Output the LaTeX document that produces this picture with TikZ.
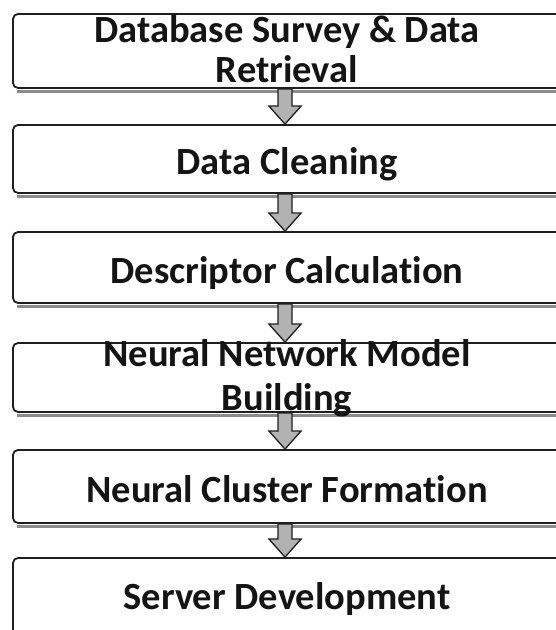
\documentclass[tikz,border=0pt]{standalone}
\usepackage{fontspec}
\setmainfont{Carlito}[Ligatures=NoCommon]
\usetikzlibrary{calc}

\tikzset{
  stepbox/.style={draw=black!88, line width=1.8pt, rounded corners=5pt,
    fill=white, inner sep=0pt, minimum width=548pt},
  steplabel/.style={anchor=base, inner sep=0pt, text=black!92,
    font=\fontsize{38.5}{44}\selectfont\bfseries},
  boxshadow/.style={draw=black!45, line width=2.2pt},
  flowarrow/.style={draw=black!88, line width=1.3pt, fill=black!30,
    line join=miter}
}

% block arrow from the bottom of one box to the top of the next
\newcommand\flowstep[2]{%
  \draw[flowarrow]
    ($(#1.south)+(-9,0)$) -- ($(#2.north)+(-9,18)$) --
    ($(#2.north)+(-18,18)$) -- ($(#2.north)+(-2,0)$) --
    ($(#2.north)+(14,18)$) -- ($(#2.north)+(5,18)$) --
    ($(#1.south)+(5,0)$) -- cycle;}

\begin{document}
\begin{tikzpicture}[x=1pt, y=1pt]
  \useasboundingbox (0,0) rectangle (556,630);
  \clip (0,0) rectangle (556,630);
  \fill[white] (0,0) rectangle (556,630);

  % process boxes
  \node[stepbox, minimum height=74pt] (b1) at (287,579)   {};
  \node[stepbox, minimum height=68pt] (b2) at (287,471)   {};
  \node[stepbox, minimum height=71pt] (b3) at (287,362.5) {};
  \node[stepbox, minimum height=69pt] (b4) at (287,252.5) {};
  \node[stepbox, minimum height=73pt] (b5) at (287,143.5) {};
  \node[stepbox, minimum height=92pt] (b6) at (287,26)    {};

  % soft shadows under the boxes
  \foreach \b in {b1,b2,b3,b4,b5}
    \draw[boxshadow] ($(\b.south west)+(5,-2.6)$) -- ($(\b.south east)+(0,-2.6)$);

  % connecting arrows
  \flowstep{b1}{b2}
  \flowstep{b2}{b3}
  \flowstep{b3}{b4}
  \flowstep{b4}{b5}
  \flowstep{b5}{b6}

  % labels
  \node[steplabel] (t1a) at (287,587) {Database Survey \& Data};
  \node[steplabel] (t1b) at (287,547) {Retrieval};
  \node[steplabel] (t2)  at (287,455) {Data Cleaning};
  \node[steplabel] (t3)  at (287,346) {Descriptor Calculation};
  \node[steplabel] (t4a) at (287,263) {Neural Network Model};
  \node[steplabel] (t4b) at (287,219) {Building};
  \node[steplabel] (t5)  at (287,127) {Neural Cluster Formation};
  \node[steplabel] (t6)  at (287,20)  {Server Development};
\end{tikzpicture}
\end{document}
